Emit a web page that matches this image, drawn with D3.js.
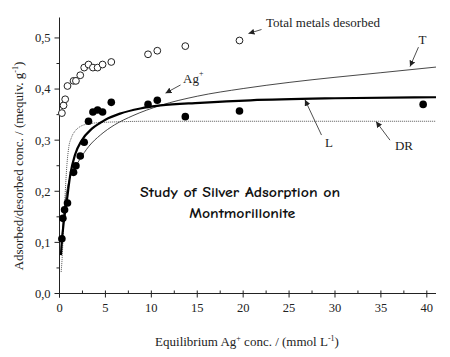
<!DOCTYPE html>
<html lang="en">
<head>
<meta charset="UTF-8">
<title>Study of Silver Adsorption on Montmorillonite</title>
<script src="https://d3js.org/d3.v7.min.js"></script>
<style>
  body { margin: 0; background: #fff; }
  svg { display: block; }
  .tick-label { font-family: "Liberation Serif", "Times New Roman", serif; font-size: 12.5px; fill: #222; }
  .axis-title { font-family: "Liberation Serif", "Times New Roman", serif; font-size: 13px; fill: #222; }
  .note { font-family: "Liberation Serif", "Times New Roman", serif; font-size: 13px; fill: #222; }
  .title { font-family: "Comic Sans MS", "Comic Neue", "DejaVu Sans", sans-serif; font-size: 14px; font-weight: bold; fill: #111; }
</style>
</head>
<body>
<div id="chart"></div>
<script>
// Ag+ adsorbed (filled circles)
const agX = [0.26, 0.37, 0.55, 0.87, 1.53, 1.79, 2.26, 2.69, 3.16, 3.64, 4.15, 4.69, 5.64, 9.64, 10.65, 13.7, 19.6, 39.6];
const agY = [0.107, 0.147, 0.164, 0.177, 0.237, 0.250, 0.269, 0.296, 0.337, 0.355, 0.359, 0.355, 0.374, 0.370, 0.378, 0.346, 0.357, 0.370];

// total metals desorbed (open circles)
const totX = [0.26, 0.44, 0.62, 0.87, 1.53, 1.79, 2.26, 2.69, 3.16, 3.64, 4.15, 4.69, 5.64, 9.64, 10.65, 13.7, 19.6];
const totY = [0.353, 0.368, 0.380, 0.406, 0.416, 0.416, 0.427, 0.442, 0.448, 0.442, 0.442, 0.448, 0.453, 0.468, 0.475, 0.484, 0.495];

// fitted curves
const lX = [0.15, 0.25, 0.44, 0.8, 1.17, 1.7, 2.4, 3.5, 4.45, 5.0, 6.6, 8.8, 11, 15.3, 20.8, 30, 41];
const lY = [0.075, 0.100, 0.136, 0.182, 0.232, 0.272, 0.299, 0.322, 0.334, 0.340, 0.352, 0.362, 0.368, 0.373, 0.378, 0.382, 0.384];

const tX = [0.2, 0.5, 0.9, 1.5, 2.2, 3.2, 4.45, 6, 8, 11, 15, 20, 25, 30, 35, 41];
const tY = [0.090, 0.160, 0.210, 0.240, 0.262, 0.288, 0.310, 0.330, 0.348, 0.368, 0.386, 0.401, 0.413, 0.423, 0.432, 0.443];

const drX = [0.18, 0.33, 0.45, 0.6, 0.8, 1.0, 1.3, 1.7, 2.2, 3.2, 5, 10, 41];
const drY = [0.042, 0.084, 0.140, 0.190, 0.250, 0.285, 0.305, 0.318, 0.326, 0.332, 0.335, 0.337, 0.337];

const xTicks = [0, 5, 10, 15, 20, 25, 30, 35, 40];
const yTicks = [0, 0.1, 0.2, 0.3, 0.4, 0.5];

const width = 450, height = 357;
const svg = d3.select("#chart").append("svg")
  .attr("width", width).attr("height", height);

const x = d3.scaleLinear().domain([0, 41]).range([59.5, 436]);
const y = d3.scaleLinear().domain([0, 0.54]).range([293.5, 17.5]);

// arrowhead
svg.append("defs").append("marker")
  .attr("id", "arrow")
  .attr("viewBox", "0 0 10 10")
  .attr("refX", 10).attr("refY", 5)
  .attr("markerWidth", 6).attr("markerHeight", 6)
  .attr("markerUnits", "userSpaceOnUse")
  .attr("orient", "auto")
  .append("path").attr("d", "M0,0L10,5L0,10z").attr("fill", "#222");

// axes
const xAxis = svg.append("g").attr("transform", `translate(0,${y(0)})`);
xAxis.append("line").attr("x1", x(0) - 4).attr("x2", x(41)).attr("stroke", "#222");
xAxis.selectAll(".minor").data(d3.range(2.5, 41, 5)).enter().append("line")
  .attr("x1", d => x(d)).attr("x2", d => x(d)).attr("y1", 0).attr("y2", -3).attr("stroke", "#222");
xAxis.selectAll(".major").data(xTicks).enter().append("line")
  .attr("x1", d => x(d)).attr("x2", d => x(d)).attr("y1", -3).attr("y2", 4).attr("stroke", "#222");
xAxis.selectAll(".lab").data(xTicks).enter().append("text")
  .attr("class", "tick-label").attr("x", d => x(d)).attr("y", 18)
  .attr("text-anchor", "middle").text(d => d);

const yAxis = svg.append("g").attr("transform", `translate(${x(0)},0)`);
yAxis.append("line").attr("y1", y(0) + 4).attr("y2", y(0.54)).attr("stroke", "#222");
yAxis.selectAll(".minor").data(d3.range(0.05, 0.54, 0.1)).enter().append("line")
  .attr("y1", d => y(d)).attr("y2", d => y(d)).attr("x1", 0).attr("x2", -3).attr("stroke", "#222");
yAxis.selectAll(".major").data(yTicks).enter().append("line")
  .attr("y1", d => y(d)).attr("y2", d => y(d)).attr("x1", 0).attr("x2", -5).attr("stroke", "#222");
yAxis.selectAll(".lab").data(yTicks).enter().append("text")
  .attr("class", "tick-label").attr("x", -9).attr("y", d => y(d)).attr("dy", "0.35em")
  .attr("text-anchor", "end").text(d => d.toFixed(1).replace(".", ","));

// axis titles
const xt = svg.append("text").attr("class", "axis-title")
  .attr("x", 247).attr("y", 346).attr("text-anchor", "middle");
xt.append("tspan").text("Equilibrium Ag");
xt.append("tspan").attr("dy", -5).attr("font-size", 8).text("+");
xt.append("tspan").attr("dy", 5).text(" conc. / (mmol L");
xt.append("tspan").attr("dy", -5).attr("font-size", 8).text("-1");
xt.append("tspan").attr("dy", 5).text(")");

const yt = svg.append("text").attr("class", "axis-title")
  .attr("transform", "translate(23,166) rotate(-90)").attr("text-anchor", "middle");
yt.append("tspan").text("Adsorbed/desorbed conc. / (mequiv. g");
yt.append("tspan").attr("dy", -5).attr("font-size", 8).text("-1");
yt.append("tspan").attr("dy", 5).text(")");

// curves
const line = d3.line().x(d => x(d[0])).y(d => y(d[1])).curve(d3.curveMonotoneX);
svg.append("path").datum(d3.zip(drX, drY)).attr("d", line)
  .attr("fill", "none").attr("stroke", "#555").attr("stroke-width", 1).attr("stroke-dasharray", "1,1");
svg.append("path").datum(d3.zip(tX, tY)).attr("d", line)
  .attr("fill", "none").attr("stroke", "#333").attr("stroke-width", 0.9);
svg.append("path").datum(d3.zip(lX, lY)).attr("d", line)
  .attr("fill", "none").attr("stroke", "#000").attr("stroke-width", 2.2);

// points
svg.selectAll(".tot").data(d3.zip(totX, totY)).enter().append("circle")
  .attr("cx", d => x(d[0])).attr("cy", d => y(d[1])).attr("r", 3.4)
  .attr("fill", "#fff").attr("stroke", "#222").attr("stroke-width", 1);
svg.selectAll(".ag").data(d3.zip(agX, agY)).enter().append("circle")
  .attr("cx", d => x(d[0])).attr("cy", d => y(d[1])).attr("r", 3.8)
  .attr("fill", "#000");

// annotations (data units)
const notes = [
  { text: "Total metals desorbed", tx: 22.49, ty: 0.521, anchor: "start", a: [22.0, 0.5165, 20.58, 0.5087] },
  { text: "T", tx: 39.53, ty: 0.488, anchor: "middle", a: [39.09, 0.482, 38.17, 0.444] },
  { text: "L", tx: 29.35, ty: 0.287, anchor: "middle", a: [28.53, 0.310, 26.73, 0.379] },
  { text: "DR", tx: 36.53, ty: 0.281, anchor: "start", a: [35.99, 0.300, 34.47, 0.3365] }
];
notes.forEach(n => {
  svg.append("text").attr("class", "note").attr("x", x(n.tx)).attr("y", y(n.ty))
    .attr("text-anchor", n.anchor).text(n.text);
  svg.append("line").attr("x1", x(n.a[0])).attr("y1", y(n.a[1])).attr("x2", x(n.a[2])).attr("y2", y(n.a[3]))
    .attr("stroke", "#222").attr("stroke-width", 0.8).attr("marker-end", "url(#arrow)");
});
const ag = svg.append("text").attr("class", "note").attr("x", x(13.45)).attr("y", y(0.412));
ag.append("tspan").text("Ag");
ag.append("tspan").attr("dy", -7).attr("font-size", 8).text("+");
svg.append("line").attr("x1", x(13.18)).attr("y1", y(0.408)).attr("x2", x(11.54)).attr("y2", y(0.392))
  .attr("stroke", "#222").attr("stroke-width", 0.8).attr("marker-end", "url(#arrow)");

// title
svg.append("text").attr("class", "title").attr("x", x(19.66)).attr("y", y(0.189))
  .attr("text-anchor", "middle").attr("textLength", 200).attr("lengthAdjust", "spacingAndGlyphs")
  .text("Study of Silver Adsorption on");
svg.append("text").attr("class", "title").attr("x", x(19.9)).attr("y", y(0.148))
  .attr("text-anchor", "middle").attr("textLength", 106).attr("lengthAdjust", "spacingAndGlyphs")
  .text("Montmorillonite");
</script>
</body>
</html>
